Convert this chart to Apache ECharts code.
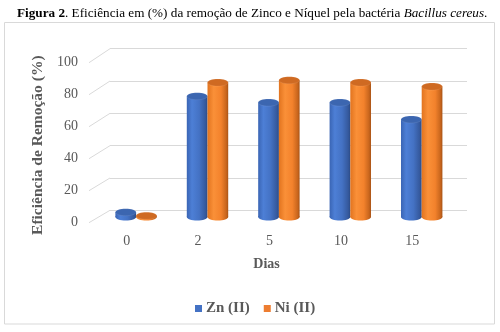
<!DOCTYPE html>
<html>
<head>
<meta charset="utf-8">
<script src="https://cdn.jsdelivr.net/npm/echarts@6/dist/echarts.min.js"></script>
<style>html,body{margin:0;padding:0;background:#fff;}#c{width:500px;height:332px;}</style>
</head>
<body>
<div id="c"></div>
<script>
var categories = ['0', '2', '5', '10', '15'];
var znValues = [3, 75.5, 71.5, 71.5, 61];
var niValues = [0.8, 84, 85.5, 84, 81.5];
var yTicks = [0, 20, 40, 60, 80, 100];
var seriesNames = ['Zn (II)', 'Ni (II)'];

var FONT = '"Liberation Serif", "Times New Roman", serif';
var GREY = '#595959';
var FRONT_LEFT = 91, BACK_LEFT = 110, BAR_LEFT = 100.4, GW = 357;

var chart = echarts.init(document.getElementById('c'), null, {renderer: 'canvas'});

function cylinder(sign, body, topFill) {
  return function (params, api) {
    var cat = api.value(0), val = api.value(1);
    var base = api.coord([cat, 0]);
    var top = api.coord([cat, val]);
    var band = api.size([1, 0])[0];
    var w = band * 0.29;
    var cx = base[0] + sign * w / 2;
    var rx = w / 2, ry = 3.5;
    var grad = new echarts.graphic.LinearGradient(0, 0, 1, 0, body);
    return {
      type: 'group',
      children: [
        {type: 'ellipse', shape: {cx: cx, cy: base[1], rx: rx, ry: ry}, style: {fill: grad}},
        {type: 'rect', shape: {x: cx - rx, y: top[1], width: w, height: base[1] - top[1]}, style: {fill: grad}},
        {type: 'ellipse', shape: {cx: cx, cy: top[1], rx: rx, ry: ry},
          style: {fill: topFill, stroke: 'rgba(255,255,255,0.15)', lineWidth: 0.6}}
      ]
    };
  };
}

var blueBody = [
  {offset: 0, color: '#3a65b4'}, {offset: 0.25, color: '#4d7fd6'},
  {offset: 0.6, color: '#4472c4'}, {offset: 0.9, color: '#35599d'}, {offset: 1, color: '#2c4b85'}
];
var orangeBody = [
  {offset: 0, color: '#e2741f'}, {offset: 0.3, color: '#fa9038'},
  {offset: 0.65, color: '#f3822c'}, {offset: 0.9, color: '#c9661d'}, {offset: 1, color: '#a95417'}
];

function toData(arr) { return arr.map(function (v, i) { return [i, v]; }); }

var option = {
  animation: false,
  color: ['#4472C4', '#ED7D31'],
  title: {
    left: 12, top: 2,
    text: '{b|Figura 2}{n|. Eficiência em (%) da remoção de Zinco e Níquel pela bactéria }{i|Bacillus cereus}{n|.}',
    textStyle: {
      fontWeight: 'normal', fontFamily: FONT, fontSize: 13.2, color: '#000',
      rich: {
        b: {fontFamily: FONT, fontSize: 13.2, fontWeight: 'bold', color: '#000'},
        n: {fontFamily: FONT, fontSize: 13.2, fontWeight: 'normal', color: '#000'},
        i: {fontFamily: FONT, fontSize: 13.2, fontWeight: 'normal', fontStyle: 'italic', color: '#000'}
      }
    }
  },
  legend: {
    left: 190, top: 296,
    itemWidth: 7, itemHeight: 7, itemGap: 14,
    icon: 'rect',
    data: seriesNames,
    textStyle: {fontFamily: FONT, fontSize: 15, fontWeight: 'bold', color: GREY, padding: [0, 0, 0, -1]}
  },
  grid: [
    {left: FRONT_LEFT, width: GW, top: 62.7, height: 160},
    {left: BACK_LEFT, width: GW, top: 48.7, height: 161.6},
    {left: BAR_LEFT, width: GW, top: 57, height: 160}
  ],
  xAxis: [
    {gridIndex: 0, type: 'category', data: categories,
      axisLine: {show: false}, axisTick: {show: false},
      axisLabel: {margin: 12, fontFamily: FONT, fontSize: 14, color: GREY},
      name: 'Dias', nameLocation: 'middle', nameGap: 35,
      nameTextStyle: {fontFamily: FONT, fontSize: 14, fontWeight: 'bold', color: GREY, padding: [0, 6, 0, 0]}},
    {gridIndex: 1, type: 'category', data: categories, show: false},
    {gridIndex: 2, type: 'category', data: categories, show: false}
  ],
  yAxis: [
    {gridIndex: 0, type: 'value', min: 0, max: 100, interval: 20,
      axisLine: {show: false}, axisTick: {show: false}, splitLine: {show: false},
      axisLabel: {margin: 13, fontFamily: FONT, fontSize: 14, color: GREY},
      name: 'Eficiência de Remoção (%)', nameLocation: 'middle', nameGap: 45, nameRotate: 90,
      nameTextStyle: {fontFamily: FONT, fontSize: 15.5, fontWeight: 'bold', color: GREY, padding: [0, 5, 0, 0]}},
    {gridIndex: 1, type: 'value', min: 0, max: 100, interval: 20,
      axisLine: {show: false}, axisTick: {show: false}, axisLabel: {show: false},
      splitLine: {show: true, lineStyle: {color: '#d9d9d9', width: 1}}},
    {gridIndex: 2, type: 'value', min: 0, max: 100, interval: 20, show: false}
  ],
  series: [
    {name: seriesNames[0], type: 'custom', xAxisIndex: 2, yAxisIndex: 2,
      itemStyle: {color: '#4472C4'}, encode: {x: 0, y: 1},
      renderItem: cylinder(-1, blueBody, '#3c66b0'), data: toData(znValues)},
    {name: seriesNames[1], type: 'custom', xAxisIndex: 2, yAxisIndex: 2,
      itemStyle: {color: '#ED7D31'}, encode: {x: 0, y: 1},
      renderItem: cylinder(1, orangeBody, '#cf6a22'), data: toData(niValues)}
  ]
};
chart.setOption(option);

// decorative frame + wall diagonals (positions from the axes' own scales)
var g = [{type: 'rect', shape: {x: 4.5, y: 22.5, width: 490, height: 301.5},
  style: {fill: 'none', stroke: '#d9d9d9', lineWidth: 1}, z: -1}];
yTicks.forEach(function (v) {
  var yf = chart.convertToPixel({yAxisIndex: 0}, v);
  var yb = chart.convertToPixel({yAxisIndex: 1}, v);
  g.push({type: 'line', shape: {x1: FRONT_LEFT - 2, y1: yf, x2: BACK_LEFT, y2: yb},
    style: {stroke: '#d9d9d9', lineWidth: 1}, z: -1});
});
chart.setOption({graphic: g});
</script>
</body>
</html>
